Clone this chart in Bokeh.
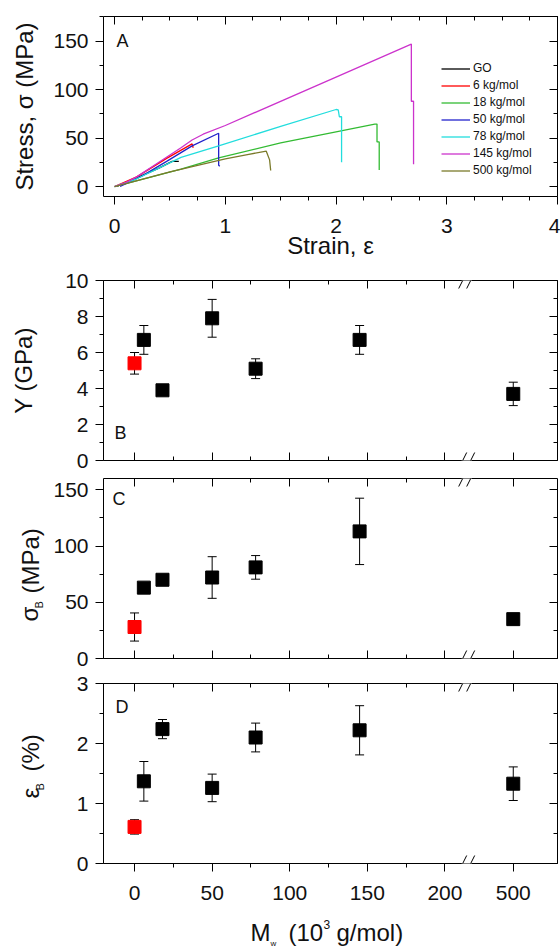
from bokeh.plotting import figure
from bokeh.layouts import column, row
from bokeh.models import (Range1d, LinearAxis, FixedTicker, SingleIntervalTicker, Label,
                          Whisker, TeeHead, ColumnDataSource, Arrow, CustomJSTickFormatter)
from bokeh.core.properties import value
from bokeh.embed import file_html
from bokeh.resources import INLINE

FONT = "Liberation Sans"

# ---------------- Panel A: stress-strain curves ----------------
strain_GO = [0.02, 0.2, 0.4, 0.52, 0.58]
stress_GO = [0, 9, 19, 26, 26]
strain_6 = [0.0, 0.2, 0.47, 0.70, 0.71]
stress_6 = [0, 10, 29, 44, 40]
strain_18 = [0, 0.3, 0.6, 0.94, 1.5, 2.0, 2.35, 2.37, 2.37, 2.39, 2.39]
stress_18 = [0, 9, 18, 29.6, 45, 56.5, 64.5, 64.5, 46, 46, 17]
strain_50 = [0.05, 0.25, 0.47, 0.7, 0.94, 0.94, 0.95]
stress_50 = [0, 11, 26, 42, 55, 22, 21]
strain_78 = [0, 0.2, 0.4, 0.6, 0.94, 1.5, 2.0, 2.02, 2.03, 2.05, 2.05]
stress_78 = [0, 8, 19, 30, 42, 62, 79.5, 79, 72, 72, 25]
strain_145 = [0, 0.1, 0.2, 0.4, 0.6, 0.7, 0.8, 1.0, 2.0, 2.68, 2.68, 2.70, 2.70]
stress_145 = [0, 4, 10, 25, 40, 48, 54, 63, 113, 147, 88, 88, 23]
strain_500 = [0, 0.5, 1.0, 1.2, 1.37, 1.40, 1.41]
stress_500 = [0, 15, 28.5, 33, 36.5, 27.5, 16.5]
curve_labels = ["GO", "6 kg/mol", "18 kg/mol", "50 kg/mol", "78 kg/mol", "145 kg/mol", "500 kg/mol"]

# ---------------- Panels B-D: properties vs molecular weight ----------------
Mw = [0, 6, 18, 50, 78, 145, 500]          # 0 = GO
Y_GPa = [5.4, 6.7, 3.9, 7.9, 5.1, 6.7, 3.7]
Y_err = [0.6, 0.8, 0.25, 1.05, 0.55, 0.8, 0.65]
sigmaB = [28, 63, 70, 72, 81, 113, 35]
sigmaB_err = [12.5, 4, 3, 18.5, 10.5, 29.5, 3.5]
epsB = [0.61, 1.37, 2.24, 1.26, 2.10, 2.22, 1.33]
epsB_err = [0.12, 0.33, 0.16, 0.23, 0.24, 0.41, 0.28]
mw_ticks = [0, 50, 100, 150, 200, 500]
mw_minor = [25, 75, 125, 175]

# broken x axis: values above BREAK_LO are shifted left by the gap
BREAK_LO, BREAK_HI = 212, 468


def disp(m):
    return m if m <= BREAK_LO else m - (BREAK_HI - BREAK_LO)


colors = ["#000000", "#ff0000", "#33bb33", "#2222cc", "#22dddd", "#cc33cc", "#7a7a2a"]

LW = 48          # label strip width (panels C, D)
FL = 103         # page x of every frame's left edge
FW = 454
FH = 180
PAGE_W = 560
FR = FL + FW     # page x of frame right edge
ROT = 1.5707963


def make_fig(width, left, height, top, bottom, xr, yr):
    p = figure(width=width, height=height, x_range=xr, y_range=yr,
               output_backend="svg", toolbar_location=None,
               min_border_left=left, min_border_right=PAGE_W - FR,
               min_border_top=top, min_border_bottom=bottom,
               x_axis_type=None, y_axis_type=None)
    p.outline_line_color = None
    p.background_fill_color = "white"
    p.border_fill_color = "white"
    return p


def blank_fig(w, h, xr, yr, left=0, right=0):
    p = figure(width=w, height=h, x_range=Range1d(*xr), y_range=Range1d(*yr),
               output_backend="svg", toolbar_location=None, min_border=0,
               min_border_left=left, min_border_right=right,
               x_axis_type=None, y_axis_type=None)
    p.outline_line_color = None
    p.background_fill_color = "white"
    p.border_fill_color = "white"
    return p


def axis(ticker, labels, out, overrides=None, standoff=10):
    a = LinearAxis(ticker=ticker)
    a.axis_line_color = "black"
    a.major_tick_line_color = "black"
    a.minor_tick_line_color = "black"
    if out:
        a.major_tick_out, a.major_tick_in = 8, 0
        a.minor_tick_out, a.minor_tick_in = 4, 0
    else:
        a.major_tick_out, a.major_tick_in = 0, 8
        a.minor_tick_out, a.minor_tick_in = 0, 4
    if labels:
        a.major_label_text_font = FONT
        a.major_label_text_font_size = "21px"
        a.major_label_text_color = "#111111"
        a.major_label_standoff = standoff
        if overrides:
            a.major_label_overrides = overrides
    else:
        a.formatter = CustomJSTickFormatter(code="return ''")
        a.major_label_text_font_size = "0px"
        a.major_label_standoff = 0
    return a


def add_axes(p, xt, yt, xlabels, bottom_out, overrides=None):
    p.add_layout(axis(xt, xlabels, bottom_out, overrides, standoff=14), "below")
    p.add_layout(axis(yt, True, True, standoff=7), "left")
    p.add_layout(axis(xt, False, False), "above")
    p.add_layout(axis(yt, False, False), "right")


def title(a, text, standoff):
    a.axis_label = text
    a.axis_label_text_font = FONT
    a.axis_label_text_font_size = "24px"
    a.axis_label_text_font_style = "normal"
    a.axis_label_text_color = "#111111"
    a.axis_label_standoff = standoff


def letter(p, fb, x, y, text):
    p.add_layout(Label(x=x - FL, y=fb - y, x_units="screen", y_units="screen",
                       text=text, text_font=FONT, text_font_size="18px", text_color="#111111"))


def put(p, top, x, y, text, size, angle=0.0, align="left", baseline="alphabetic"):
    # x, y: page pixels; the strip's ranges are set up in page pixels
    h = p.height
    p.text(x=[x], y=[h - (y - top)], text=[text], text_font=value(FONT),
           text_font_size=value(size), text_color="#111111", angle=angle,
           text_align=align, text_baseline=baseline)


# ---------------- Figure A ----------------
hA_top, hA_bot = 16, 66
hA = hA_top + FH + hA_bot
pA = make_fig(PAGE_W, FL, hA, hA_top, hA_bot, Range1d(-0.1, 4.0), Range1d(-10.3, 175.5))
add_axes(pA, SingleIntervalTicker(interval=1, num_minor_ticks=4),
         SingleIntervalTicker(interval=50, num_minor_ticks=2), True, True)
title(pA.below[0], "Strain, ε", -4)
title(pA.left[0], "Stress, σ (MPa)", 12)
curves = [(strain_GO, stress_GO), (strain_6, stress_6), (strain_18, stress_18),
          (strain_50, stress_50), (strain_78, stress_78), (strain_145, stress_145),
          (strain_500, stress_500)]
for (xs, ys), c, lab in zip(curves, colors, curve_labels):
    pA.line(xs, ys, line_color=c, line_width=1.3, legend_label=lab)
lg = pA.legend[0]
lg.location = (338, 19)
lg.background_fill_alpha = 0
lg.border_line_alpha = 0
lg.padding = 0
lg.margin = 0
lg.spacing = 3
lg.glyph_width = 29
lg.glyph_height = 13
lg.label_height = 13
lg.label_standoff = 3
lg.label_text_font = FONT
lg.label_text_font_size = "12px"
lg.label_text_color = "#111111"
fbA = hA_top + FH
letter(pA, fbA, 116, 50, "A")

# ---------------- Figures B-D ----------------
xr_mw = (-20, 272.5)
major_disp = [disp(m) for m in mw_ticks]
overrides = {disp(m): str(m) for m in mw_ticks if m > BREAK_LO}


def mw_ticker():
    return FixedTicker(ticks=major_disp, minor_ticks=[disp(m) for m in mw_minor])


def points(p, vals, errs, ymax):
    xs = [disp(m) for m in Mw]
    src = ColumnDataSource(dict(x=xs, lo=[v - e for v, e in zip(vals, errs)],
                                hi=[v + e for v, e in zip(vals, errs)]))
    w = Whisker(source=src, base="x", upper="hi", lower="lo", dimension="height",
                line_color="black", line_width=1, level="underlay",
                upper_head=TeeHead(size=9, line_width=1, line_color="black"),
                lower_head=TeeHead(size=9, line_width=1, line_color="black"))
    p.add_layout(w)
    p.scatter(xs[1:], vals[1:], marker="square", size=13, color="black")
    p.scatter(xs[:1], vals[:1], marker="square", size=13, color="#ff0000")
    # axis break marks
    xpx = (xr_mw[1] - xr_mw[0]) / FW
    ypx = ymax / FH
    bx = 214
    for edge in (0, ymax):
        p.add_layout(Arrow(end=None, x_start=bx - 5 * xpx, y_start=edge, x_end=bx + 5 * xpx, y_end=edge,
                           line_color="white", line_width=3, level="overlay"))
        for c in (bx - 4 * xpx, bx + 4 * xpx):
            p.add_layout(Arrow(end=None, x_start=c - 4 * xpx, y_start=edge - 8 * ypx,
                               x_end=c + 4 * xpx, y_end=edge + 8 * ypx,
                               line_color="black", line_width=1, level="overlay"))


# B
topB = hA
hB_top, hB_bot = 18, 11
hB = hB_top + FH + hB_bot
pB = make_fig(PAGE_W, FL, hB, hB_top, hB_bot, Range1d(*xr_mw), Range1d(0, 10))
add_axes(pB, mw_ticker(), SingleIntervalTicker(interval=2, num_minor_ticks=2), False, False)
title(pB.left[0], "Y (GPa)", 25)
fbB = topB + hB_top + FH
points(pB, Y_GPa, Y_err, 10)
letter(pB, fbB, 114, 442, "B")

# C  (the label strip's frame is aligned with the panel's frame, so its
#     y range is given in pixels measured from the strip's bottom edge)
topC = topB + hB
hC_top, hC_bot = 7, 12
hC = hC_top + FH + hC_bot
pC = make_fig(PAGE_W - LW, FL - LW, hC, hC_top, hC_bot, Range1d(*xr_mw), Range1d(0, 160))
add_axes(pC, mw_ticker(), SingleIntervalTicker(interval=50, num_minor_ticks=2), False, False)
fbC = topC + hC_top + FH
points(pC, sigmaB, sigmaB_err, 160)
letter(pC, fbC, 112, 508, "C")
LC = blank_fig(LW, hC, (0, LW), (hC_bot, hC - hC_top))
put(LC, topC, 29, 621, "σ", "24px", angle=ROT)
put(LC, topC, 38, 608, "B", "11px", angle=ROT)
put(LC, topC, 30, 593, "(MPa)", "24px", angle=ROT)

# D
topD = topC + hC
hD_top, hD_bot = 13, 52
hD = hD_top + FH + hD_bot
pD = make_fig(PAGE_W - LW, FL - LW, hD, hD_top, hD_bot, Range1d(*xr_mw), Range1d(0, 3))
add_axes(pD, mw_ticker(), SingleIntervalTicker(interval=1, num_minor_ticks=2), True, True, overrides)
fbD = topD + hD_top + FH
points(pD, epsB, epsB_err, 3)
letter(pD, fbD, 115, 716, "D")
LD = blank_fig(LW, hD, (0, LW), (hD_bot, hD - hD_top))
put(LD, topD, 30, 798, "ε", "24px", angle=ROT)
put(LD, topD, 39, 790, "B", "11px", angle=ROT)
put(LD, topD, 30, 771, "(%)", "24px", angle=ROT)

# bottom strip with the M_w axis title; its frame spans the panels' frame width
topS = topD + hD
hS = 33
SD = blank_fig(PAGE_W, hS, (FL, FR), (0, hS), left=FL, right=PAGE_W - FR)
midS = topS + hS / 2
put(SD, topS, 250, midS, "M", "24px", baseline="middle")
put(SD, topS, 270, midS + 11, "w", "8px", baseline="middle")
put(SD, topS, 288, midS, "(10", "24px", baseline="middle")
put(SD, topS, 323, midS - 8, "3", "12px", baseline="middle")
put(SD, topS, 336, midS, "g/mol)", "24px", baseline="middle")

layout = column(pA, pB, row(LC, pC, spacing=0), row(LD, pD, spacing=0), SD, spacing=0)
open("out.html", "w").write(file_html(layout, INLINE))
